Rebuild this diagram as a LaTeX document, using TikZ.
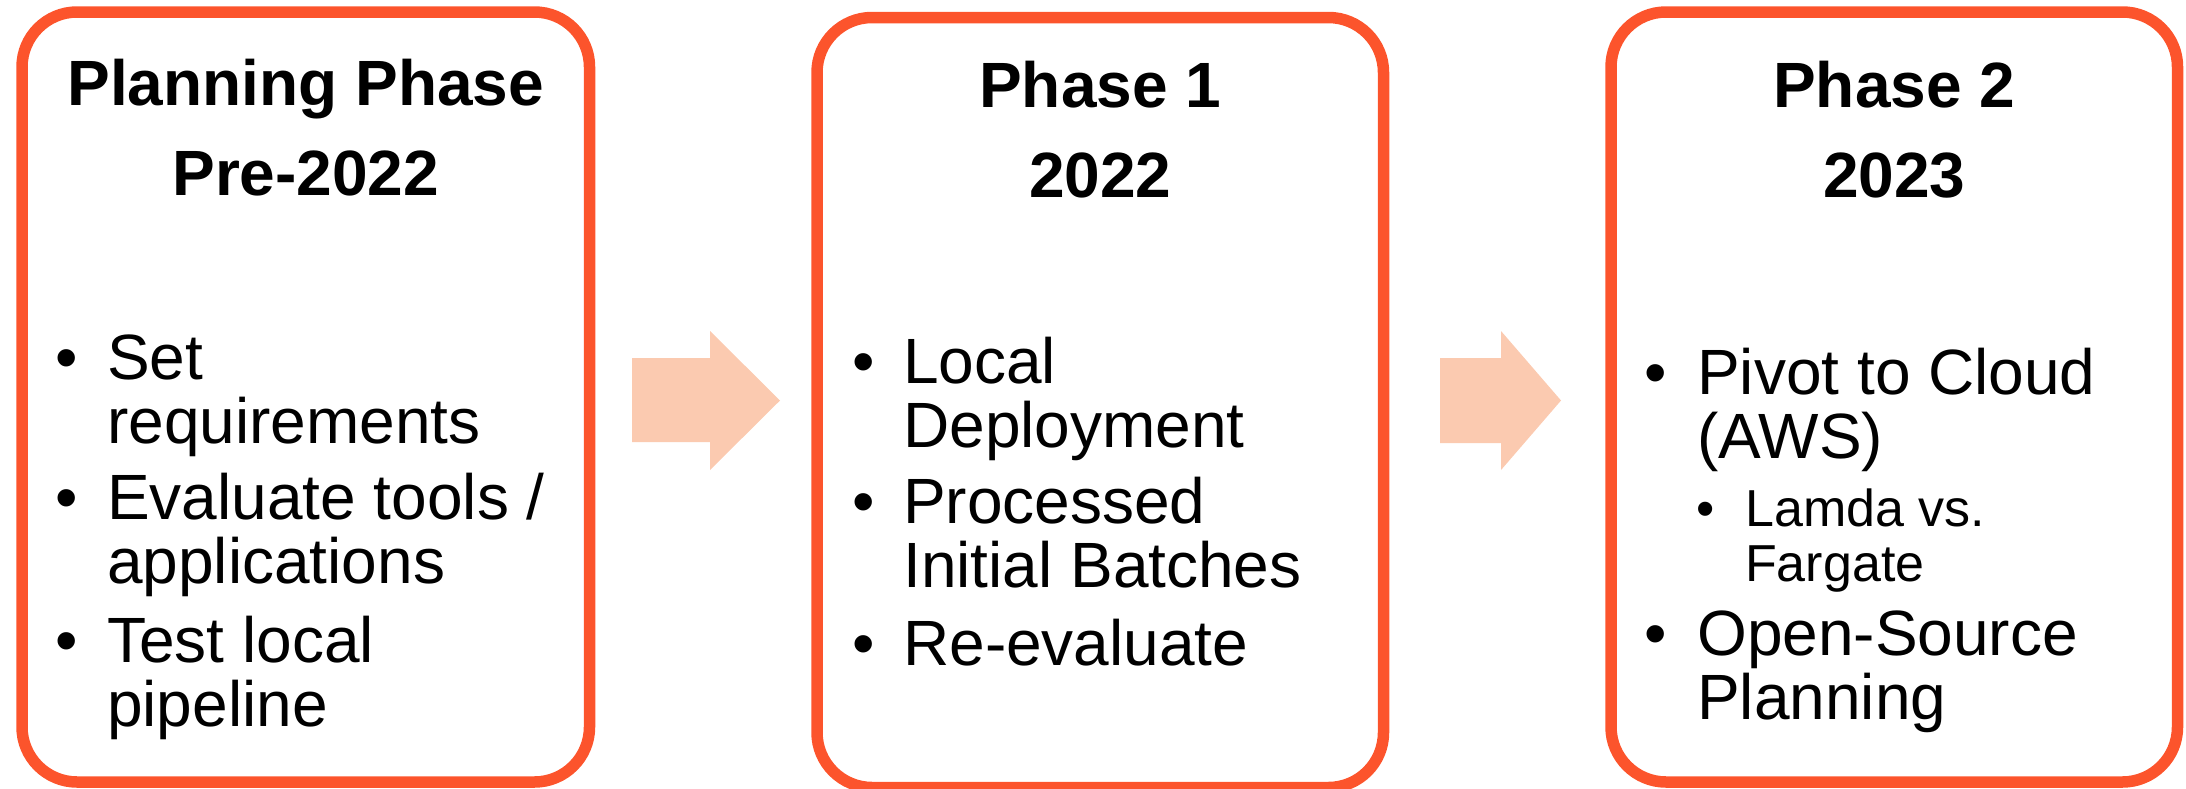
\documentclass[tikz,border=0pt]{standalone}
\usepackage{fontspec}
\setmainfont{Liberation Sans}
\begin{document}
\definecolor{boxred}{RGB}{252,84,44}
\definecolor{peach}{RGB}{251,202,176}
\begin{tikzpicture}[x=1pt,y=-1pt,
  phasebox/.style={draw=boxred, line width=11.5pt, rounded corners=55pt,
    minimum width=#1, minimum height=770pt, inner sep=0pt, outer sep=0pt},
  % multi-line nodes are placed by the baseline of their last line
  titletext/.style={anchor=base, align=center, inner sep=0pt,
    font=\bfseries\fontsize{64}{90}\selectfont},
  itemtext/.style={anchor=base west, align=left, inner sep=0pt,
    font=\fontsize{64}{64}\selectfont},
  subtext/.style={anchor=base west, align=left, inner sep=0pt,
    font=\fontsize{52}{55}\selectfont},
  dot/.style={anchor=base, inner sep=0pt, font=\fontsize{64}{64}\selectfont},
  subdot/.style={anchor=base, inner sep=0pt, font=\fontsize{52}{52}\selectfont},
  blockarrow/.style={fill=peach, draw=none}]
\useasboundingbox (0,0) rectangle (2186,788);

% three phase frames
\node[phasebox=567.5pt] (plan) at (305.75,397) {};
\node[phasebox=566.5pt] (ph1) at (1100.25,402.5) {};
\node[phasebox=566.5pt] (ph2) at (1894.25,397) {};

% block arrows between the frames
\fill[blockarrow] (632,358) -- (710,358) -- (710,331) -- (780,400.5)
  -- (710,470) -- (710,442) -- (632,442) -- cycle;
\fill[blockarrow] (1440,358) -- (1501,358) -- (1501,331) -- (1561,400.5)
  -- (1501,470) -- (1501,443) -- (1440,443) -- cycle;

% planning phase
\node[titletext] (plantitle) at (305.75,195) {Planning Phase\\Pre-2022};
\node[dot] (pd1) at (67,379) {\textbullet};
\node[itemtext] (pi1) at (107,443) {Set\\requirements};
\node[dot] (pd2) at (67,519) {\textbullet};
\node[itemtext] (pi2) at (107,583) {Evaluate tools /\\applications};
\node[dot] (pd3) at (67,662) {\textbullet};
\node[itemtext] (pi3) at (107,726) {Test local\\pipeline};

% phase 1
\node[titletext] (ph1title) at (1100.25,197) {Phase 1\\2022};
\node[dot] (ad1) at (864,383) {\textbullet};
\node[itemtext] (ai1) at (903,447) {Local\\Deployment};
\node[dot] (ad2) at (864,523) {\textbullet};
\node[itemtext] (ai2) at (903,587) {Processed\\Initial Batches};
\node[dot] (ad3) at (864,665) {\textbullet};
\node[itemtext] (ai3) at (903,665) {Re-evaluate};

% phase 2
\node[titletext] (ph2title) at (1894.25,197) {Phase 2\\2023};
\node[dot] (bd1) at (1656,394) {\textbullet};
\node[itemtext] (bi1) at (1697,458) {Pivot to Cloud\\(AWS)};
\node[subdot] (bs1) at (1706,526) {\textbullet};
\node[subtext] (bsi1) at (1745,581) {Lamda vs.\\Fargate};
\node[dot] (bd2) at (1656,655) {\textbullet};
\node[itemtext] (bi2) at (1697,719) {Open-Source\\Planning};
\end{tikzpicture}
\end{document}
